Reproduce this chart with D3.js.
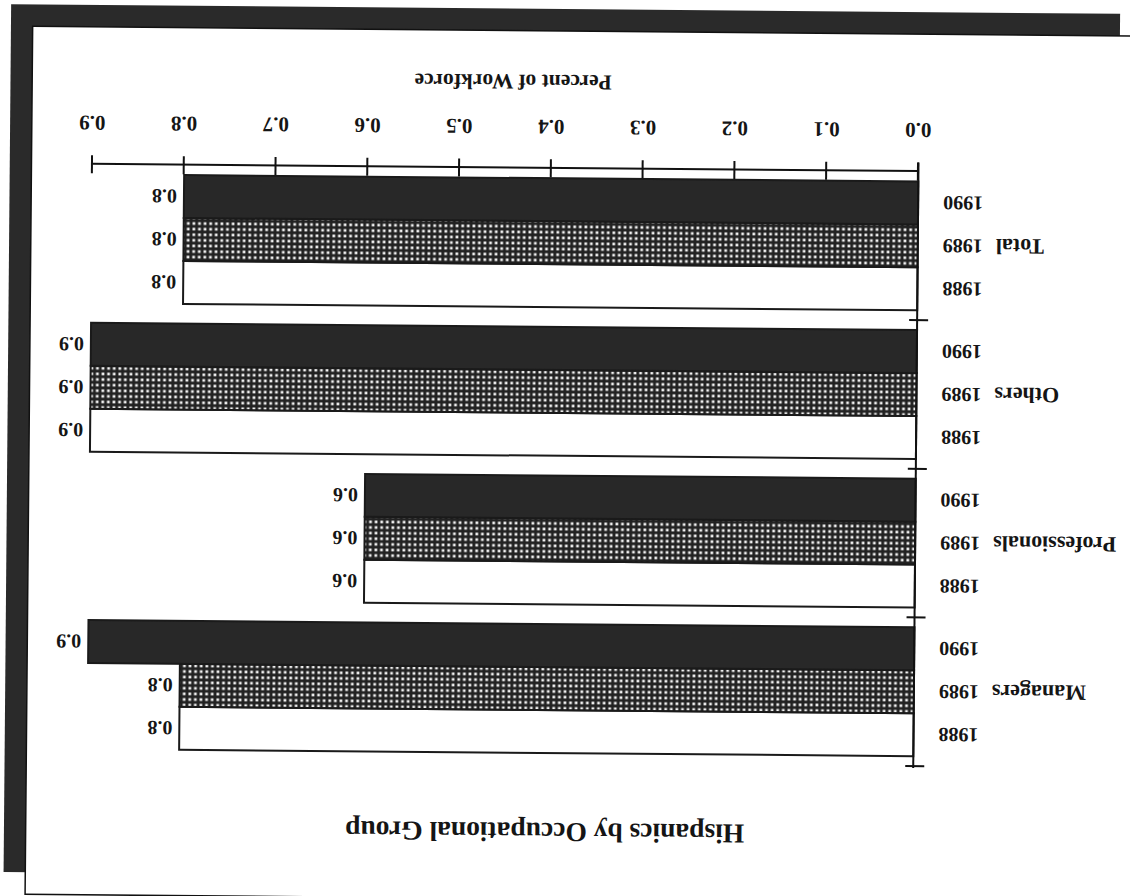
<!DOCTYPE html>
<html>
<head>
<meta charset="utf-8">
<script src="https://cdn.jsdelivr.net/npm/d3@7"></script>
<style>
    body { margin: 0; background: #fff; }
    svg { display: block; }
    text { font-family: "Liberation Serif", "Times New Roman", serif; font-weight: bold; fill: #151515; }
</style>
</head>
<body>
<div id="chart"></div>
<script>
const groups = ["Managers", "Professionals", "Others", "Total"]
const years = ["1988", "1989", "1990"]
const managers = [0.8, 0.8, 0.9]
const professionals = [0.6, 0.6, 0.6]
const others = [0.9, 0.9, 0.9]
const total = [0.8, 0.8, 0.8]
const xTicks = [0, 0.1, 0.2, 0.3, 0.4, 0.5, 0.6, 0.7, 0.8, 0.9]
const titleText = "Hispanics by Occupational Group"
const xTitleText = "Percent of Workforce"

const seriesByGroup = { Managers: managers, Professionals: professionals, Others: others, Total: total }
const rows = groups.flatMap((g) => years.map((yr, i) => ({ group: g, year: yr, value: seriesByGroup[g][i] })))

const W = 1130
const H = 896

const svg = d3.select("#chart")
    .append("svg")
    .attr("width", W)
    .attr("height", H)

const defs = svg.append("defs")
const pat = defs.append("pattern")
    .attr("id", "checks")
    .attr("patternUnits", "userSpaceOnUse")
    .attr("width", 5.6)
    .attr("height", 5.6)
pat.append("rect").attr("width", 5.6).attr("height", 5.6).attr("fill", "#222")
pat.append("rect").attr("x", 1.5).attr("y", 1.5).attr("width", 2.7).attr("height", 2.7).attr("fill", "#f2f2f2")

// the scanned page sits upside down and a little skewed
const page = svg.append("g").attr("transform", `rotate(180.5, ${W / 2}, ${H / 2})`)

// drop shadow + sheet
page.append("rect")
    .attr("x", 13.7).attr("y", 19)
    .attr("width", 1109).attr("height", 868)
    .attr("fill", "#2a2a2a")
page.append("rect")
    .attr("x", -8).attr("y", -3)
    .attr("width", 1109).attr("height", 868)
    .attr("fill", "#fff")
    .attr("stroke", "#111")
    .attr("stroke-width", 1.5)

const x = d3.scaleLinear().domain([0, 0.9]).range([214, 1040])
const y0 = d3.scaleBand().domain(groups).range([133, 727.5])
const y1 = d3.scaleBand().domain(years).range([0, y0.bandwidth()]).paddingOuter(0.23)

const fills = { "1988": "#fff", "1989": "url(#checks)", "1990": "#282828" }

// bars
page.append("g")
    .selectAll("rect")
    .data(rows)
    .join("rect")
    .attr("x", x(0))
    .attr("y", (d) => y0(d.group) + y1(d.year))
    .attr("width", (d) => x(d.value) - x(0))
    .attr("height", y1.bandwidth())
    .attr("fill", (d) => fills[d.year])
    .attr("stroke", "#1a1a1a")
    .attr("stroke-width", 2)

// value labels
page.append("g")
    .selectAll("text")
    .data(rows)
    .join("text")
    .attr("x", (d) => x(d.value) + 7)
    .attr("y", (d) => y0(d.group) + y1(d.year) + y1.bandwidth() / 2)
    .attr("dy", "0.35em")
    .attr("font-size", 20)
    .text((d) => d3.format(".1f")(d.value))

// x axis
const xAxis = d3.axisBottom(x)
    .tickValues(xTicks)
    .tickFormat(d3.format(".1f"))
    .tickSize(9)
    .tickSizeOuter(0)
const gx = page.append("g")
    .attr("transform", `translate(0, ${y0.range()[1]})`)
    .call(xAxis)
gx.select(".domain").attr("stroke", "#111").attr("stroke-width", 2)
gx.selectAll(".tick line").attr("y1", -9).attr("stroke", "#111").attr("stroke-width", 2)
gx.selectAll(".tick text")
    .attr("y", 48.5)
    .attr("dy", 0)
    .attr("font-size", 21)
    .attr("font-family", null)
    .attr("fill", "#151515")

page.append("text")
    .attr("x", 620)
    .attr("y", 821)
    .attr("text-anchor", "middle")
    .attr("font-size", 21.5)
    .text(xTitleText)

// category axis
const gy = page.append("g")
gy.append("line")
    .attr("x1", x(0)).attr("x2", x(0))
    .attr("y1", y0.range()[0] - 2)
    .attr("y2", y0.range()[1] + 9)
    .attr("stroke", "#111")
    .attr("stroke-width", 2)
gy.selectAll(".gtick")
    .data(groups.map((g) => y0(g)))
    .join("line")
    .attr("class", "gtick")
    .attr("x1", x(0) - 11).attr("x2", x(0) + 8)
    .attr("y1", (d) => d).attr("y2", (d) => d)
    .attr("stroke", "#111")
    .attr("stroke-width", 2)

gy.selectAll(".year")
    .data(rows)
    .join("text")
    .attr("class", "year")
    .attr("x", x(0) - 25)
    .attr("y", (d) => y0(d.group) + y1(d.year) + y1.bandwidth() / 2)
    .attr("dy", "0.35em")
    .attr("text-anchor", "end")
    .attr("font-size", 20)
    .text((d) => d.year)

gy.selectAll(".cat")
    .data(groups)
    .join("text")
    .attr("class", "cat")
    .attr("x", x(0) - 78)
    .attr("y", (d) => y0(d) + y1("1989") + y1.bandwidth() / 2)
    .attr("dy", "0.35em")
    .attr("text-anchor", "end")
    .attr("font-size", 22)
    .text((d) => d)

page.append("text")
    .attr("x", 582)
    .attr("y", 73)
    .attr("text-anchor", "middle")
    .attr("font-size", 27.5)
    .text(titleText)
</script>
</body>
</html>
